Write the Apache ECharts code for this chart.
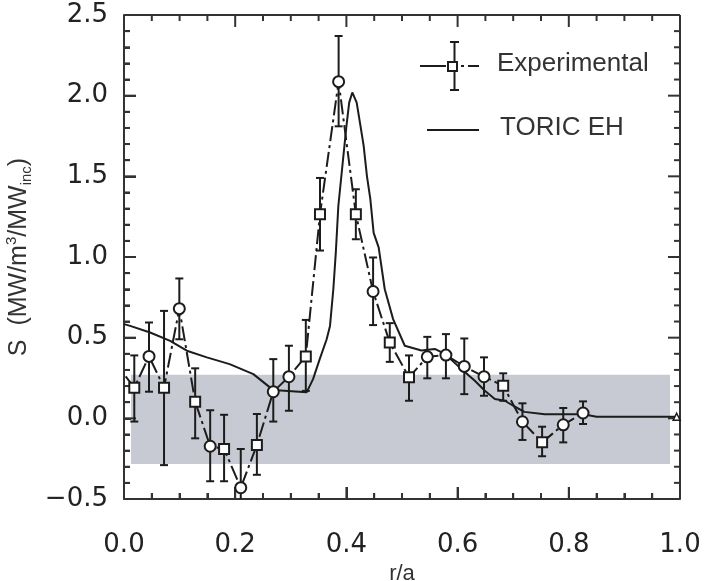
<!DOCTYPE html>
<html>
<head>
<meta charset="utf-8">
<script src="https://cdn.jsdelivr.net/npm/echarts@6/dist/echarts.min.js"></script>
<style>
  html, body { margin: 0; padding: 0; background: #fff; }
  #main { width: 706px; height: 581px; }
</style>
</head>
<body>
<div id="main"></div>
<script>
// experimental points (r/a, S) with error bar limits, first point is only the line start
var rExp   = [0.003, 0.0185, 0.045, 0.072, 0.0995, 0.128, 0.155, 0.18, 0.21, 0.239, 0.2685, 0.2966, 0.327,
              0.3525, 0.386, 0.417, 0.448, 0.478, 0.5126, 0.5455, 0.579, 0.612, 0.6475, 0.682, 0.7166, 0.752, 0.79, 0.8256];
var sExp   = [0.26, 0.19, 0.384, 0.19, 0.68, 0.103, -0.173, -0.19, -0.43, -0.165, 0.165, 0.258, 0.384,
              1.265, 2.087, 1.265, 0.786, 0.47, 0.254, 0.381, 0.392, 0.322, 0.258, 0.202, -0.021, -0.149, -0.04, 0.033];
var errLow = [null, -0.02, 0.165, -0.29, 0.49, -0.124, -0.39, -0.39, -0.56, -0.35, -0.02, 0.047, 0.17,
              1.04, 1.81, 1.11, 0.578, 0.35, 0.109, 0.248, 0.248, 0.15, 0.14, 0.109, -0.134, -0.235, -0.149, -0.035];
var errHigh = [null, 0.39, 0.594, 0.666, 0.867, 0.31, 0.05, 0.022, -0.19, 0.027, 0.367, 0.45, 0.61,
              1.49, 2.37, 1.42, 0.997, 0.59, 0.39, 0.505, 0.522, 0.495, 0.378, 0.279, 0.093, -0.052, 0.064, 0.105];
var markerType = ['none', 'rect', 'circle', 'rect', 'circle', 'rect', 'circle', 'rect', 'circle', 'rect', 'circle', 'circle', 'rect',
              'rect', 'circle', 'rect', 'circle', 'rect', 'rect', 'circle', 'circle', 'circle', 'circle', 'rect', 'circle', 'rect', 'circle', 'circle'];

// TORIC EH simulation
var rToric = [0, 0.011, 0.047, 0.083, 0.113, 0.149, 0.19, 0.2326, 0.2686, 0.3285, 0.34, 0.352, 0.3645, 0.3705,
              0.3765, 0.381, 0.3855, 0.394, 0.4, 0.405, 0.4106, 0.4185, 0.4245, 0.431, 0.437, 0.443, 0.449, 0.458,
              0.469, 0.484, 0.505, 0.535, 0.559, 0.577, 0.607, 0.631, 0.649, 0.667, 0.685, 0.70, 0.72, 0.757, 0.826, 0.85, 0.994];
var sToric = [0.584, 0.573, 0.532, 0.48, 0.419, 0.378, 0.336, 0.274, 0.175, 0.161, 0.243, 0.367, 0.49, 0.573,
              0.80, 1.03, 1.316, 1.606, 1.81, 1.957, 2.02, 1.957, 1.83, 1.69, 1.5, 1.36, 1.15, 1.06,
              0.80, 0.615, 0.45, 0.42, 0.43, 0.40, 0.305, 0.233, 0.171, 0.12, 0.109, 0.078, 0.04, 0.025, 0.025, 0.01, 0.01];

// shaded band [r0, r1, s0, s1]
var band = [0.0126, 0.982, -0.283, 0.27];

// axis ticks
var xMajorTicks = [0, 0.2, 0.4, 0.6, 0.8, 1.0];
var yMajorTicks = [-0.5, 0, 0.5, 1.0, 1.5, 2.0, 2.5];
var xMinorSplit = 4;
var yMinorSplit = 5;

var ink = '#1c1c1c';
var axisInk = '#333';
var tickFont = 'DejaVu Sans';
var textFont = '"Liberation Sans", Arial, sans-serif';

var xMin = xMajorTicks[0], xMax = xMajorTicks[xMajorTicks.length - 1];
var yMin = yMajorTicks[0], yMax = yMajorTicks[yMajorTicks.length - 1];

var expLine = rExp.map(function (r, i) { return [r, sExp[i]]; });
var expMarks = [];
var errBars = [];
rExp.forEach(function (r, i) {
  if (markerType[i] !== 'none') {
    expMarks.push({ value: [r, sExp[i]], symbol: markerType[i], symbolSize: markerType[i] === 'rect' ? 10 : 11 });
  }
  if (errLow[i] !== null) errBars.push([r, errLow[i], errHigh[i]]);
});
var toricLine = rToric.map(function (r, i) {
  if (i === rToric.length - 1) return { value: [r, sToric[i]], symbol: 'triangle', symbolSize: 7 };
  return [r, sToric[i]];
});

function minorOf(major, split) {
  var out = [];
  for (var i = 0; i < major.length - 1; i++) {
    var step = (major[i + 1] - major[i]) / split;
    for (var k = 1; k < split; k++) out.push(major[i] + k * step);
  }
  return out;
}
var xMinorTicks = minorOf(xMajorTicks, xMinorSplit);
var yMinorTicks = minorOf(yMajorTicks, yMinorSplit);

function tickLabel(v) {
  var s = Math.abs(v).toFixed(1);
  return v < 0 ? '\u2212' + s : s;
}

var chart = echarts.init(document.getElementById('main'));

var option = {
  animation: false,
  backgroundColor: '#fff',
  grid: { left: 124, right: 26, top: 15, bottom: 82, containLabel: false, outerBoundsMode: 'none' },
  xAxis: {
    type: 'value',
    min: xMin,
    max: xMax,
    interval: 0.2,
    axisLine: { show: true, onZero: false, lineStyle: { color: axisInk, width: 2 } },
    axisTick: { show: true, inside: true, length: 12, lineStyle: { color: axisInk, width: 2 } },
    minorTick: { show: true, splitNumber: xMinorSplit, length: 6, lineStyle: { color: axisInk, width: 2 } },
    splitLine: { show: false },
    axisLabel: { fontFamily: tickFont, fontSize: 26, color: '#222', margin: 33, formatter: tickLabel },
    name: 'r/a',
    nameLocation: 'middle',
    nameGap: 54,
    nameTextStyle: { fontFamily: textFont, fontSize: 22, color: '#333' }
  },
  yAxis: {
    type: 'value',
    min: yMin,
    max: yMax,
    interval: 0.5,
    axisLine: { show: true, onZero: false, lineStyle: { color: axisInk, width: 2 } },
    axisTick: { show: true, inside: true, length: 12, lineStyle: { color: axisInk, width: 2 } },
    minorTick: { show: true, splitNumber: yMinorSplit, length: 6, lineStyle: { color: axisInk, width: 2 } },
    splitLine: { show: false },
    axisLabel: { fontFamily: tickFont, fontSize: 26, color: '#222', margin: 16, formatter: tickLabel },
    name: '{n|S  (MW/m}{sup|3}{n|/MW}{sub|inc}{n|)}',
    nameLocation: 'middle',
    nameGap: 67,
    nameTextStyle: {
      rich: {
        n: { fontFamily: textFont, fontSize: 25, color: '#333', lineHeight: 30 },
        sup: { fontFamily: textFont, fontSize: 15, color: '#333', lineHeight: 16, verticalAlign: 'top' },
        sub: { fontFamily: textFont, fontSize: 15, color: '#333', lineHeight: 16, verticalAlign: 'bottom' }
      }
    }
  },
  series: [
    {
      name: 'band',
      type: 'custom',
      z: 1,
      clip: true,
      silent: true,
      data: [band],
      encode: { x: [0, 1], y: [2, 3] },
      renderItem: function (params, api) {
        var p0 = api.coord([api.value(0), api.value(3)]);
        var p1 = api.coord([api.value(1), api.value(2)]);
        return {
          type: 'rect',
          shape: { x: p0[0], y: p0[1], width: p1[0] - p0[0], height: p1[1] - p0[1] },
          style: { fill: '#c7cad2' }
        };
      }
    },
    {
      // box frame with inward ticks on all four sides, placed through the axis scales
      name: 'frame',
      type: 'custom',
      z: 2,
      clip: false,
      silent: true,
      data: [[xMin, yMin, xMax, yMax]],
      encode: { x: [0, 2], y: [1, 3] },
      renderItem: function (params, api) {
        var lb = api.coord([xMin, yMin]);
        var rt = api.coord([xMax, yMax]);
        var L = lb[0], B = lb[1], R = rt[0], T = rt[1];
        var st = { stroke: axisInk, lineWidth: 2 };
        var kids = [];
        function seg(x1, y1, x2, y2) {
          kids.push({ type: 'line', shape: { x1: x1, y1: y1, x2: x2, y2: y2 }, style: st });
        }
        seg(L, T, R, T);
        seg(R, T, R, B);
        seg(L, B, R, B);
        seg(L, T, L, B);
        function xTicks(list, len) {
          list.forEach(function (v) {
            var px = api.coord([v, yMin])[0];
            seg(px, B, px, B - len);
            seg(px, T, px, T + len);
          });
        }
        function yTicks(list, len) {
          list.forEach(function (v) {
            var py = api.coord([xMin, v])[1];
            seg(L, py, L + len, py);
            seg(R, py, R - len, py);
          });
        }
        xTicks(xMajorTicks, 12);
        xTicks(xMinorTicks, 6);
        yTicks(yMajorTicks, 12);
        yTicks(yMinorTicks, 6);
        return { type: 'group', children: kids };
      }
    },
    {
      name: 'TORIC EH',
      type: 'line',
      z: 3,
      data: toricLine,
      symbol: 'none',
      showSymbol: true,
      itemStyle: { color: '#fff', borderColor: ink, borderWidth: 1.5 },
      lineStyle: { color: ink, width: 2 }
    },
    {
      name: 'Experimental',
      type: 'line',
      z: 4,
      data: expLine,
      symbol: 'none',
      lineStyle: { color: ink, width: 2, type: [15, 4, 3, 4] }
    },
    {
      name: 'errors',
      type: 'custom',
      z: 5,
      clip: true,
      data: errBars,
      encode: { x: 0, y: [1, 2] },
      renderItem: function (params, api) {
        var x = api.value(0);
        var lo = api.coord([x, api.value(1)]);
        var hi = api.coord([x, api.value(2)]);
        var cap = 4;
        var st = { stroke: ink, lineWidth: 2 };
        return {
          type: 'group',
          children: [
            { type: 'line', shape: { x1: lo[0], y1: lo[1], x2: hi[0], y2: hi[1] }, style: st },
            { type: 'line', shape: { x1: lo[0] - cap, y1: lo[1], x2: lo[0] + cap, y2: lo[1] }, style: st },
            { type: 'line', shape: { x1: hi[0] - cap, y1: hi[1], x2: hi[0] + cap, y2: hi[1] }, style: st }
          ]
        };
      }
    },
    {
      name: 'markers',
      type: 'scatter',
      z: 6,
      data: expMarks,
      itemStyle: { color: '#fff', borderColor: ink, borderWidth: 2, opacity: 1 }
    }
  ],
  graphic: [
    // legend: Experimental
    { type: 'line', shape: { x1: 420, y1: 66, x2: 446, y2: 66 }, style: { stroke: ink, lineWidth: 2 } },
    { type: 'line', shape: { x1: 461, y1: 66, x2: 464, y2: 66 }, style: { stroke: ink, lineWidth: 2 } },
    { type: 'line', shape: { x1: 468, y1: 66, x2: 479, y2: 66 }, style: { stroke: ink, lineWidth: 2 } },
    { type: 'line', shape: { x1: 454.5, y1: 42, x2: 454.5, y2: 90 }, style: { stroke: ink, lineWidth: 2 } },
    { type: 'line', shape: { x1: 450, y1: 42, x2: 459, y2: 42 }, style: { stroke: ink, lineWidth: 2 } },
    { type: 'line', shape: { x1: 450, y1: 90, x2: 459, y2: 90 }, style: { stroke: ink, lineWidth: 2 } },
    { type: 'rect', shape: { x: 448, y: 62, width: 9, height: 9 }, style: { fill: '#fff', stroke: ink, lineWidth: 2 } },
    { type: 'text', left: 497, top: 51, style: { text: 'Experimental', font: '26px "Liberation Sans", Arial, sans-serif', fill: '#333' } },
    // legend: TORIC EH
    { type: 'line', shape: { x1: 427, y1: 130, x2: 479, y2: 130 }, style: { stroke: ink, lineWidth: 2 } },
    { type: 'text', left: 500, top: 115, style: { text: 'TORIC EH', font: '26px "Liberation Sans", Arial, sans-serif', fill: '#333' } }
  ]
};

chart.setOption(option);
</script>
</body>
</html>
